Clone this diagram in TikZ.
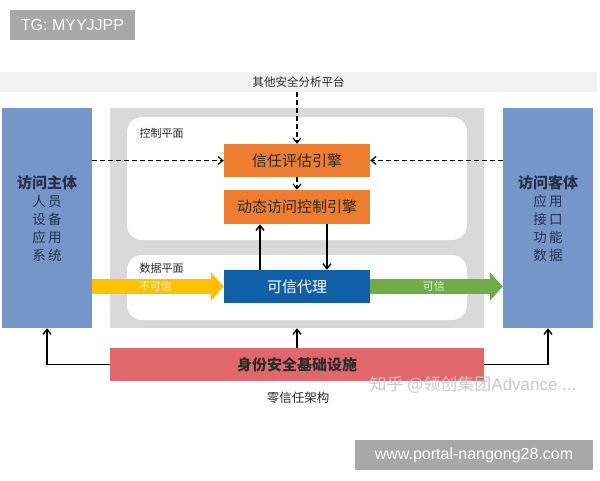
\documentclass[tikz,border=0pt]{standalone}
\usepackage{fontspec}
\setmainfont{Noto Sans CJK SC}
\newfontfamily\lat{Liberation Sans}
\usetikzlibrary{arrows.meta}
\definecolor{boxblue}{HTML}{7596C8}
\definecolor{planegray}{HTML}{D9D9D9}
\definecolor{bandgray}{HTML}{F2F2F2}
\definecolor{engorange}{HTML}{ED7D31}
\definecolor{proxyblue}{HTML}{1060A8}
\definecolor{untrust}{HTML}{FFC000}
\definecolor{trustgreen}{HTML}{70AD47}
\definecolor{infrared}{HTML}{E0676B}
\definecolor{darktxt}{HTML}{2B2B2B}
\definecolor{subtxt}{HTML}{27324A}
\definecolor{wmgray}{HTML}{A8A8A8}
\begin{document}
\begin{tikzpicture}[x=1pt,y=-1pt,
  engine/.style={fill=engorange,minimum width=146pt,minimum height=33pt,inner sep=0pt,
    text=darktxt,font=\fontsize{15}{16}\selectfont},
  actor/.style={fill=boxblue,minimum width=90pt,minimum height=220pt,inner sep=0pt},
  plane/.style={fill=white,rounded corners=15pt,minimum width=340pt,inner sep=0pt},
  planelbl/.style={font=\fontsize{11}{12}\selectfont,text=darktxt,anchor=west},
  dasharrow/.style={dash pattern=on 5pt off 3pt,line width=1.2pt,-{Straight Barb[length=5pt,width=8pt]}},
  solidarrow/.style={line width=1.4pt,-{Straight Barb[length=5pt,width=8pt]}},
  wmbox/.style={fill=wmgray,text=white,inner sep=0pt,font=\lat\fontsize{16}{18}\selectfont},
]
\useasboundingbox (0,0) rectangle (600,480);
% watermark boxes
\node[wmbox,minimum width=125pt,minimum height=30pt] (tg) at (72.5,25) {TG: MYYJJPP};
\node[wmbox,minimum width=238pt,minimum height=30pt] (url) at (474,455) {www.portal-nangong28.com};
% top band
\node[fill=bandgray,minimum width=597pt,minimum height=20pt,inner sep=0pt,
  font=\fontsize{11.5}{12}\selectfont,text=darktxt] (band) at (298.5,82) {其他安全分析平台};
% actors
\node[actor] (left) at (47,218) {};
\node[align=center,text=subtxt,font=\fontsize{13.5}{18}\selectfont] (lefttxt) at (47,219)
  {{\bfseries\fontsize{15}{18}\selectfont 访问主体}\\人\,员\\设\,备\\应\,用\\系\,统};
\node[actor] (right) at (548,218) {};
\node[align=center,text=subtxt,font=\fontsize{13.5}{18}\selectfont] (righttxt) at (548,219)
  {{\bfseries\fontsize{15}{18}\selectfont 访问客体}\\应\,用\\接\,口\\功\,能\\数\,据};
% gray plane container
\node[fill=planegray,minimum width=374pt,minimum height=220pt,inner sep=0pt] (gray) at (297,218) {};
\node[plane,minimum height=123pt] (ctrl) at (297,178.5) {};
\node[plane,minimum height=65pt] (data) at (297,287.5) {};
\node[planelbl] (ctrllbl) at (136,133) {控制平面};
\node[planelbl] (datalbl) at (136,268) {数据平面};
% engines
\node[engine] (trust) at (297,160.5) {信任评估引擎};
\node[engine,minimum height=34pt] (dyn) at (297,207) {动态访问控制引擎};
\node[engine,fill=proxyblue,text=white] (proxy) at (297,286.5) {可信代理};
% infrastructure
\node[fill=infrared,minimum width=374pt,minimum height=33pt,inner sep=0pt,
  text=darktxt,font=\bfseries\fontsize{15}{16}\selectfont] (red) at (297,364.5) {身份安全基础设施};
\node[text=darktxt,font=\fontsize{12.5}{14}\selectfont] (caption) at (298,398) {零信任架构};
% fat arrows
\draw[untrust,line width=15pt,-{Triangle[length=13pt,width=28pt]}]
  (left.east |- proxy.west) -- (proxy.west)
  node[pos=0.48,text=white!80!untrust,font=\fontsize{11}{12}\selectfont] (untrustlbl) {不可信};
\draw[trustgreen,line width=15pt,-{Triangle[length=13pt,width=28pt]}]
  (proxy.east) -- (right.west |- proxy.east)
  node[pos=0.48,text=white!80!trustgreen,font=\fontsize{11}{12}\selectfont] (trustlbl) {可信};
% dashed control arrows
\draw[dasharrow] (trust.north |- band.south) -- (trust.north);
\draw[dasharrow] (left.east |- trust.west) -- (trust.west);
\draw[dasharrow] (right.west |- trust.east) -- (trust.east);
\draw[dasharrow] (trust.south) -- (dyn.north);
% solid arrows
\draw[solidarrow] ([xshift=-37pt]proxy.north) -- ([xshift=-37pt]dyn.south);
\draw[solidarrow] ([xshift=30pt]dyn.south) -- ([xshift=30pt]proxy.north);
\draw[solidarrow] (red.north) -- (gray.south);
\draw[solidarrow] (red.west) -| (left.south);
\draw[solidarrow] (red.east) -| (right.south);
% zhihu watermark
\node[anchor=west,text=black!22,font=\fontsize{17}{18}\selectfont] (zhihu) at (366,385)
  {知乎 @领创集团{\lat Advance ...}};
\end{tikzpicture}
\end{document}
